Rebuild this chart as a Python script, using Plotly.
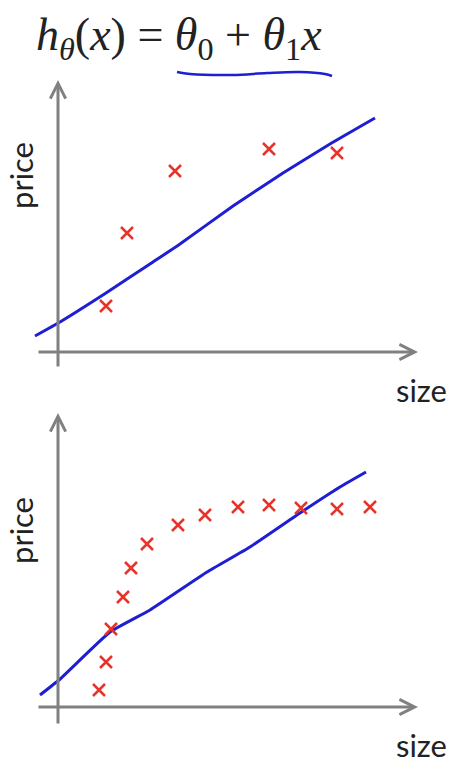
import plotly.graph_objects as go

# ---- data (arbitrary units) ----
size_top = [4.8, 6.9, 11.7, 21.1, 27.9]
price_top = [4.6, 11.9, 18.1, 20.3, 19.9]

fit_top_size = [-2.3, 0.2, 4.8, 9.5, 12.2, 17.5, 22.5, 27.2, 31.7]
fit_top_price = [1.6, 3.0, 5.9, 9.0, 10.8, 14.6, 17.9, 20.8, 23.4]

size_bot = [4.1, 4.8, 5.3, 6.5, 7.3, 8.9, 12.0, 14.7, 18.0, 21.1, 24.3, 27.9, 31.2]
price_bot = [1.7, 4.5, 7.8, 11.0, 13.9, 16.3, 18.2, 19.2, 20.0, 20.2, 19.9, 19.8, 20.0]

fit_bot_size = [-1.8, 0.1, 5.2, 9.2, 14.9, 19.2, 24.2, 28.2, 30.8]
fit_bot_price = [1.2, 2.7, 7.5, 9.7, 13.5, 16.0, 19.4, 22.0, 23.5]

underline_x = [11.9, 13.2, 17.5, 20.9, 24.2, 26.7, 27.4]
underline_y = [28.0, 27.8, 27.7, 27.9, 28.0, 27.8, 27.6]

formula = "<i>h</i><sub><i>θ</i></sub>(<i>x</i>) = <i>θ</i><sub>0</sub> + <i>θ</i><sub>1</sub><i>x</i>"
x_label = "size"
y_label = "price"

# ---- styles ----
BLUE = "#1e1ed2"
RED = "#e8322a"
GRAY = "#808080"
TEXT = "#222222"

fig = go.Figure()

marker = dict(symbol="x-thin", size=12, line=dict(width=2.5, color=RED), color=RED)

fig.add_trace(go.Scatter(x=fit_top_size, y=fit_top_price, mode="lines",
                         line=dict(color=BLUE, width=3, shape="spline", smoothing=0.4),
                         xaxis="x", yaxis="y", hoverinfo="skip"))
fig.add_trace(go.Scatter(x=size_top, y=price_top, mode="markers", marker=marker,
                         xaxis="x", yaxis="y"))
fig.add_trace(go.Scatter(x=underline_x, y=underline_y, mode="lines",
                         line=dict(color=BLUE, width=2.5, shape="spline"),
                         xaxis="x", yaxis="y", hoverinfo="skip"))

fig.add_trace(go.Scatter(x=fit_bot_size, y=fit_bot_price, mode="lines",
                         line=dict(color=BLUE, width=3, shape="spline", smoothing=0.4),
                         xaxis="x2", yaxis="y2", hoverinfo="skip"))
fig.add_trace(go.Scatter(x=size_bot, y=price_bot, mode="markers", marker=marker,
                         xaxis="x2", yaxis="y2"))

ax_common = dict(visible=False, showgrid=False, zeroline=False, fixedrange=True)

annotations = []
for xr, yr, ybot, ytop in [("x", "y", -1.6, 27.2), ("x2", "y2", -1.8, 29.4)]:
    # horizontal (size) axis arrow
    annotations.append(dict(x=36.0, y=0, ax=-2.1, ay=0, xref=xr, yref=yr, axref=xr, ayref=yr,
                            text="", showarrow=True, arrowhead=5, arrowsize=1.0,
                            arrowwidth=3, arrowcolor=GRAY, standoff=0))
    # vertical (price) axis arrow
    annotations.append(dict(x=0, y=ytop, ax=0, ay=ybot, xref=xr, yref=yr, axref=xr, ayref=yr,
                            text="", showarrow=True, arrowhead=5, arrowsize=1.0,
                            arrowwidth=3, arrowcolor=GRAY, standoff=0))
    annotations.append(dict(x=-3.7, y=17.6, xref=xr, yref=yr, text=y_label, textangle=-90,
                            showarrow=False, xanchor="center", yanchor="middle",
                            font=dict(family="Lato", size=31, color=TEXT)))
    annotations.append(dict(x=36.3, y=-3.8, xref=xr, yref=yr, text=x_label,
                            showarrow=False, xanchor="center", yanchor="middle",
                            font=dict(family="Lato", size=31, color=TEXT)))

annotations.append(dict(x=34 / 458, y=1 - 38 / 767, xref="paper", yref="paper", text=formula,
                        showarrow=False, xanchor="left", yanchor="middle",
                        font=dict(family="Liberation Serif", size=46, color="#222222")))

fig.update_layout(
    width=458, height=767,
    margin=dict(l=0, r=0, t=0, b=0, pad=0),
    paper_bgcolor="white", plot_bgcolor="white",
    showlegend=False,
    xaxis=dict(domain=[0, 1], range=[-5.8, 40.0], anchor="y", **ax_common),
    yaxis=dict(domain=[1 - 410 / 767, 1], range=[-5.8, 35.2], anchor="x", **ax_common),
    xaxis2=dict(domain=[0, 1], range=[-5.8, 40.0], anchor="y2", **ax_common),
    yaxis2=dict(domain=[0, 1 - 400 / 767], range=[-6.0, 30.7], anchor="x2", **ax_common),
    annotations=annotations,
)

fig.write_html("out.html", config={"displayModeBar": False},
               post_script="document.body.style.margin='0';")
